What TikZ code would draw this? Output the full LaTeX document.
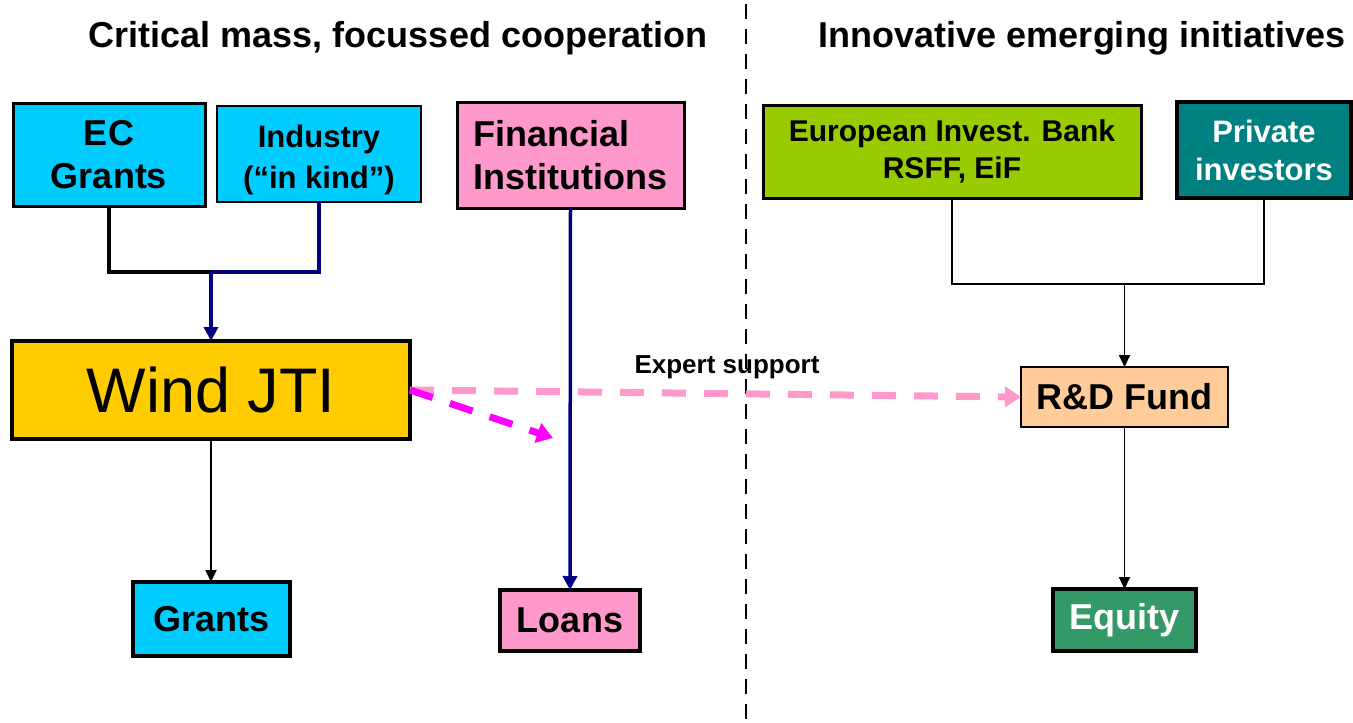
\documentclass[tikz,border=0pt]{standalone}
\usepackage{fontspec}
\setmainfont{Liberation Sans}
\usetikzlibrary{arrows.meta}
\definecolor{ecblue}{HTML}{00CCFF}
\definecolor{finpink}{HTML}{FF99CC}
\definecolor{jtigold}{HTML}{FFCC00}
\definecolor{eibgreen}{HTML}{99CC00}
\definecolor{privteal}{HTML}{008080}
\definecolor{fundpeach}{HTML}{FFCC99}
\definecolor{eqgreen}{HTML}{339966}
\definecolor{navyline}{HTML}{000080}
\definecolor{magline}{HTML}{FF00FF}
\tikzset{
    block/.style = {
        draw,
        inner sep=0pt,
        outer sep=0pt,
        align=center,
        font=\bfseries\fontsize{36}{43}\selectfont,
        },
    thin link/.style = {
        draw=black,
        line width=1.8pt,
        -{Triangle[length=12pt, width=11pt]},
        },
    navy link/.style = {
        draw=navyline,
        line width=3.5pt,
        },
    title/.style = {
        font=\bfseries\fontsize{36}{43}\selectfont,
        },
}
\begin{document}
\begin{tikzpicture}[
            x=1pt, y=1pt,
            SourceBlock/.style={block, line width=3pt},
            ResultBlock/.style={block, line width=3.5pt},
            SupportDash/.style={line width=7pt, dash pattern=on 24pt off 18pt}
            ]
            \useasboundingbox (0,0) rectangle (1353,-723);

            \node [title] (tleft) at (398,-38) {Critical mass, focussed cooperation};
            \node [title] (tright) at (1082,-38) {Innovative emerging initiatives};
            \coordinate (sep top) at (746,-4);
            \coordinate (sep bot) at (746,-723);
            \draw [line width=2.5pt, dash pattern=on 15pt off 10pt] (sep top) -- (sep bot);

            % left side
            \node [SourceBlock, fill=ecblue, minimum width=192, minimum height=103] (ecg) at (109,-154.5) {EC\\Grants};
            \node [SourceBlock, line width=2.5pt, fill=ecblue, minimum width=204, minimum height=96,
                   font=\bfseries\fontsize{31}{41}\selectfont] (ind) at (319,-154) {\rule{0pt}{0pt}\\[-6pt]Industry\\(“in kind”)};
            \node [SourceBlock, fill=finpink, minimum width=227, minimum height=106, align=left] (fin) at (570.5,-155) {Financial\\Institutions};
            \node [block, line width=4.5pt, fill=jtigold, minimum width=398, minimum height=98,
                   font=\fontsize{63}{70}\selectfont] (jti) at (211,-390) {Wind JTI};
            \node [ResultBlock, fill=ecblue, minimum width=157, minimum height=74] (grt) at (211.5,-619) {Grants};
            \node [ResultBlock, fill=finpink, minimum width=140, minimum height=61] (lns) at (570,-620.5) {Loans};

            % right side
            \node [SourceBlock, fill=eibgreen, minimum width=378, minimum height=93,
                   font=\bfseries\fontsize{30}{37}\selectfont] (eib) at (952,-151.5) {European Invest. Bank\\RSFF, EiF};
            \node [SourceBlock, line width=4pt, fill=privteal, text=white, minimum width=174, minimum height=96,
                   font=\bfseries\fontsize{31}{38}\selectfont] (prv) at (1264,-150) {Private\\investors};
            \node [block, line width=2pt, fill=fundpeach, minimum width=207, minimum height=60] (rnd) at (1124.5,-397) {R\&D Fund};
            \node [ResultBlock, line width=4pt, fill=eqgreen, text=white, minimum width=143, minimum height=62] (eqt) at (1124.5,-620) {Equity};
            \node [font=\bfseries\fontsize{26}{30}\selectfont] (exp) at (727,-367) {Expert support};

            \coordinate (jl) at (211,-272);
            \coordinate (jr) at (1124.5,-284);
            \coordinate (mg) at (553,-438);

            \draw [SupportDash, draw=finpink, -{Triangle[length=16pt, width=20pt, fill=finpink]}] (jti.east) -- (rnd.west);
            \draw [SupportDash, draw=magline, -{Triangle[length=16pt, width=20pt, fill=magline]}] (jti.east) -- (mg);

            \draw [line width=4pt] (ecg.south) |- (jl);
            \draw [navy link] (ind.south) |- (jl);
            \draw [navy link, -{Triangle[length=14pt, width=14pt]}] (jl) -- (jti.north);
            \draw [navy link, -{Triangle[length=14pt, width=14pt]}] (fin.south) -- (lns.north);
            \draw [thin link] (jti.south) -- (jti.south |- grt.north);

            \draw [line width=1.8pt] (eib.south) |- (jr);
            \draw [line width=1.8pt] (prv.south) |- (jr);
            \draw [thin link] (jr) -- (rnd.north);
            \draw [thin link] (rnd.south) -- (eqt.north);
\end{tikzpicture}
\end{document}
